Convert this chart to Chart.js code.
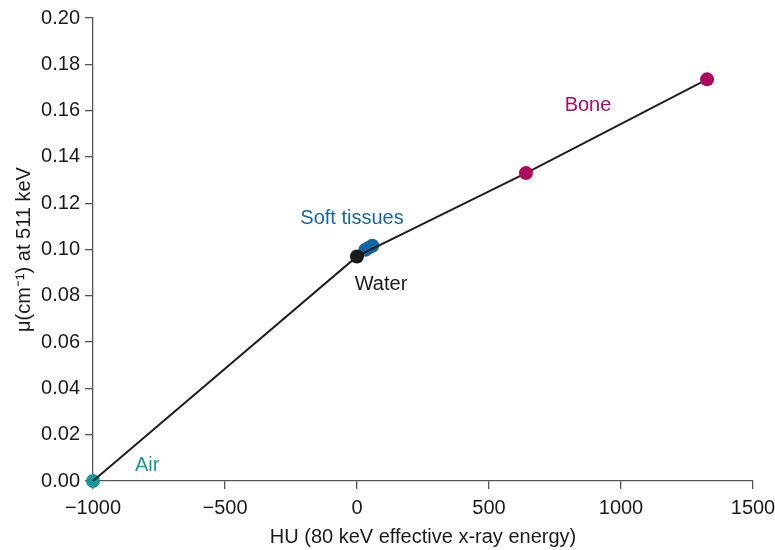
<!DOCTYPE html>
<html>
<head>
<meta charset="utf-8">
<script src="https://cdn.jsdelivr.net/npm/chart.js@4.4.1/dist/chart.umd.min.js"></script>
<style>
  html, body { margin: 0; padding: 0; background: #ffffff; }
  #wrap { position: relative; width: 775px; height: 550px; }
</style>
</head>
<body>
<div id="wrap"><canvas id="c" width="775" height="550"></canvas></div>
<script>
// Data
const lineHU = [-1000, 0, 640, 1326];
const lineMu = [0.0, 0.097, 0.133, 0.1735];

const airHU = [-1000];
const airMu = [0.0];
const waterHU = [0];
const waterMu = [0.097];
const softHU = [32, 45, 58];
const softMu = [0.0999, 0.1008, 0.1016];
const boneHU = [640, 1326];
const boneMu = [0.133, 0.1735];

const xTicks = [-1000, -500, 0, 500, 1000, 1500];
const yTicks = [0.00, 0.02, 0.04, 0.06, 0.08, 0.10, 0.12, 0.14, 0.16, 0.18, 0.20];

const labelNames = ['Air', 'Soft tissues', 'Water', 'Bone'];
const labelHU = [-795, -19, 91, 875];
const labelMu = [0.0069, 0.1136, 0.0851, 0.1624];

const toPts = (xs, ys) => xs.map((x, i) => ({ x: x, y: ys[i] }));

const FONT = '"Liberation Sans", Arial, Helvetica, sans-serif';
const AIR = '#17999a';
const WATER = '#1a1a1a';
const SOFT = '#1467a3';
const BONE = '#ac0a5f';
const labelColors = [AIR, SOFT, '#1a1a1a', BONE];

const labelPlugin = {
  id: 'matLabels',
  afterDatasetsDraw(chart) {
    const ctx = chart.ctx;
    const xs = chart.scales.x, ys = chart.scales.y;
    ctx.save();
    ctx.font = '20px ' + FONT;
    ctx.textAlign = 'center';
    ctx.textBaseline = 'middle';
    labelNames.forEach((t, i) => {
      ctx.fillStyle = labelColors[i];
      ctx.fillText(t, xs.getPixelForValue(labelHU[i]), ys.getPixelForValue(labelMu[i]));
    });
    ctx.restore();
  }
};

const pointDs = (xs, ys, color) => ({
  data: toPts(xs, ys),
  showLine: false,
  clip: false,
  pointRadius: 7,
  pointHoverRadius: 7,
  pointBackgroundColor: color,
  pointBorderColor: color,
  pointBorderWidth: 0,
  backgroundColor: color,
  borderColor: color
});

new Chart(document.getElementById('c'), {
  type: 'scatter',
  data: {
    datasets: [
      pointDs(boneHU, boneMu, BONE),
      {
        data: toPts(lineHU, lineMu),
        showLine: true,
        clip: false,
        borderColor: '#1f1f1f',
        borderWidth: 2,
        pointRadius: 0,
        tension: 0,
        fill: false
      },
      pointDs(airHU, airMu, AIR),
      pointDs(waterHU, waterMu, WATER),
      pointDs(softHU, softMu, SOFT)
    ]
  },
  options: {
    responsive: false,
    animation: false,
    events: [],
    layout: { padding: { left: 0, right: 22, top: 18, bottom: 0 } },
    plugins: {
      legend: { display: false },
      tooltip: { enabled: false }
    },
    scales: {
      x: {
        type: 'linear',
        min: -1000,
        max: 1500,
        afterBuildTicks: s => { s.ticks = xTicks.map(v => ({ value: v })); },
        afterFit: s => { s.height = 69; s.paddingLeft = 0; s.paddingRight = 0; },
        grid: { display: true, drawOnChartArea: false, drawTicks: true, tickLength: 8, color: '#555', lineWidth: 1.3 },
        border: { display: true, color: '#555', width: 1.3 },
        ticks: {
          color: '#1a1a1a',
          font: { family: FONT, size: 20 },
          padding: 7,
          maxRotation: 0,
          callback: v => (v < 0 ? '\u2212' + Math.abs(v) : String(v))
        },
        title: {
          display: true,
          text: 'HU (80 keV effective x-ray energy)',
          color: '#1a1a1a',
          font: { family: FONT, size: 20 },
          padding: { top: 0, bottom: 1 }
        }
      },
      y: {
        type: 'linear',
        min: 0,
        max: 0.2,
        afterBuildTicks: s => { s.ticks = yTicks.map(v => ({ value: v })); },
        afterFit: s => { s.width = 93; s.paddingTop = 0; s.paddingBottom = 0; },
        grid: { display: true, drawOnChartArea: false, drawTicks: true, tickLength: 8, color: '#555', lineWidth: 1.3 },
        border: { display: true, color: '#555', width: 1.3 },
        ticks: {
          color: '#1a1a1a',
          font: { family: FONT, size: 20 },
          padding: 5,
          callback: v => Number(v).toFixed(2)
        },
        title: {
          display: true,
          text: '\u03bc(cm\u207b\u00b9) at 511 keV',
          color: '#1a1a1a',
          font: { family: FONT, size: 20 },
          padding: { top: 12, bottom: 0 }
        }
      }
    }
  },
  plugins: [labelPlugin]
});
</script>
</body>
</html>
